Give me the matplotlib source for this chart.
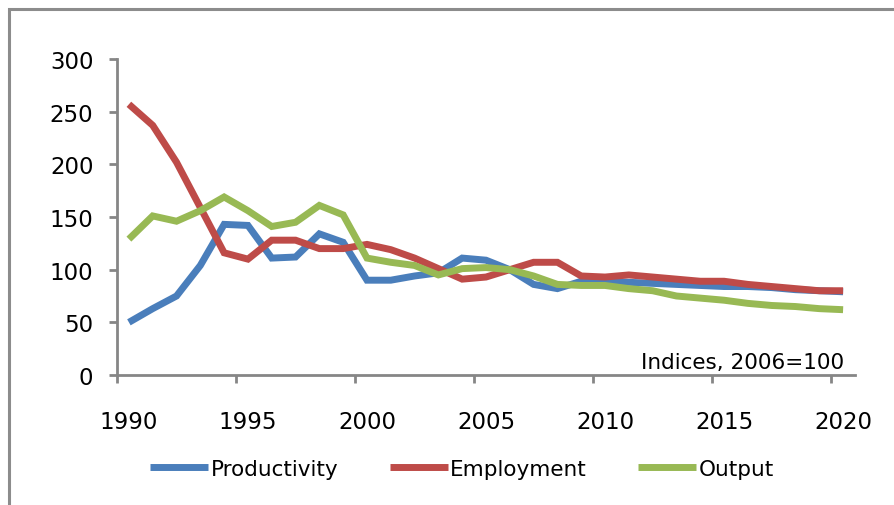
import matplotlib
matplotlib.use('Agg')
import matplotlib.pyplot as plt
from matplotlib.patches import Rectangle
import numpy as np

years = list(range(1990, 2021))
productivity = [50, 63, 75, 104, 143, 142, 111, 112, 134, 126, 90,
                90, 94, 97, 111, 109, 100, 86, 82, 89, 89,
                88, 87, 86, 85, 84, 84, 83, 81, 80, 79]
employment = [257, 237, 202, 159, 116, 110, 128, 128, 120, 120, 124,
              119, 111, 101, 91, 93, 100, 107, 107, 94, 93,
              95, 93, 91, 89, 89, 86, 84, 82, 80, 80]
output = [129, 151, 146, 156, 169, 156, 141, 145, 161, 152, 111,
          107, 104, 95, 101, 102, 100, 94, 86, 85, 85,
          82, 80, 75, 73, 71, 68, 66, 65, 63, 62]
series_names = ['Productivity', 'Employment', 'Output']
label_years = [1990, 1995, 2000, 2005, 2010, 2015, 2020]
y_ticks = [0, 50, 100, 150, 200, 250, 300]
note = 'Indices, 2006=100'

colors = ['#4A7EBB', '#BE4B48', '#98B954']
grey = '#868686'
plt.rcParams['font.family'] = ['DejaVu Sans']
tick_fs = 16.5
text_fs = 15.5

W, H = 894, 506
fig = plt.figure(figsize=(W / 100, H / 100), dpi=100)

# outer chart frame (only top and left edges visible)
fig.patches.append(Rectangle((8.5 / W, -0.1), 1.2, 1.1 - 9.5 / H,
                             transform=fig.transFigure, fill=False,
                             edgecolor='#8c8c8c', linewidth=2.2))

ax = fig.add_axes([117 / W, (H - 376) / H, (855 - 117) / W, (376 - 60) / H])

for vals, name, c in zip([productivity, employment, output], series_names, colors):
    ax.plot(years, vals, color=c, lw=5, label=name, solid_capstyle='butt',
            solid_joinstyle='miter')

ax.set_xlim(1989.5, 2020.5)
ax.set_ylim(0, 300)
ax.set_yticks(y_ticks)
ax.set_yticklabels([str(v) for v in y_ticks], fontsize=tick_fs)

# tick marks between categories, labels on categories
ax.set_xticks(np.arange(1989.5, 2021, 5))
ax.set_xticklabels([])
ax.set_xticks(label_years, minor=True)
ax.set_xticklabels([str(y) for y in label_years], minor=True, fontsize=tick_fs)
ax.tick_params(axis='x', which='major', length=6, width=2, color=grey, direction='out')
ax.tick_params(axis='x', which='minor', length=0, pad=25)
ax.tick_params(axis='y', length=6, width=2, color=grey, pad=11)

for s in ['top', 'right']:
    ax.spines[s].set_visible(False)
for s in ['left', 'bottom']:
    ax.spines[s].set_color(grey)
    ax.spines[s].set_linewidth(2)

ax.text(0.985, 0.008, note, transform=ax.transAxes, ha='right', va='bottom',
        fontsize=text_fs)

fig.legend(loc='center', bbox_to_anchor=(462 / W, (H - 470) / H), ncol=3,
           frameon=False, fontsize=text_fs, handlelength=2.7, handletextpad=0.1,
           columnspacing=2.4)

fig.savefig('out.png', dpi=100)
